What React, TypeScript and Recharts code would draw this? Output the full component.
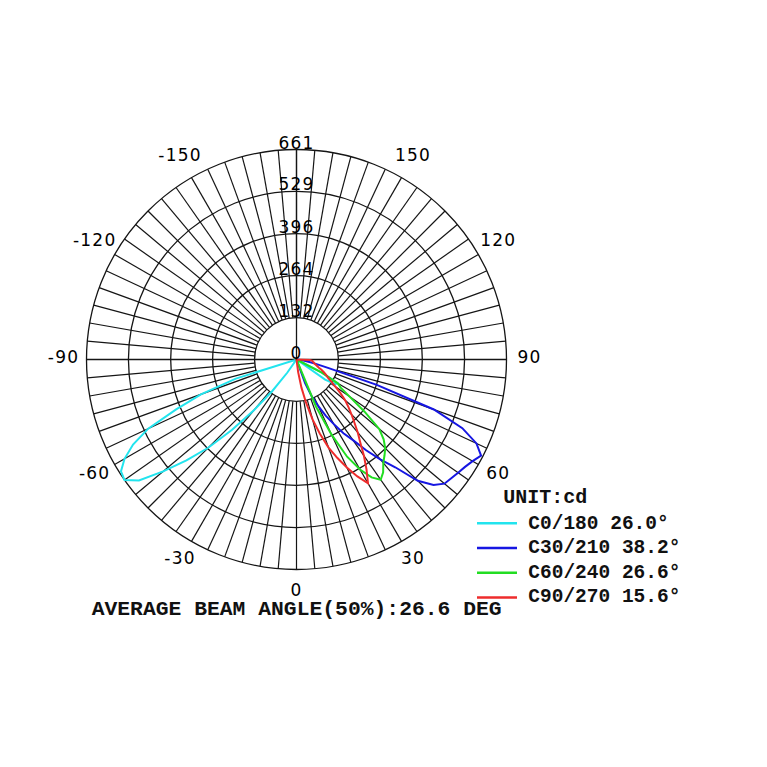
import React from "react";
import { PolarAngleAxis, PolarGrid, PolarRadiusAxis, Radar, RadarChart } from "recharts";

const SIZE = 760;
const CX = 296.5;
const CY = 359.5;
const R = 210;
const MAX_CD = 661;
const GRID = "#151515";

const radiusTicks = [0, 132, 264, 396, 529, 661];
const angleLabels = [0, 30, 60, 90, 120, 150, -150, -120, -90, -60, -30];

// gamma positions on a 0..360 axis: 0 at the bottom, 90 right, 180 top, 270 (= -90) left
const toPos = (a: number) => (a < 0 ? a + 360 : a);
const toLabel = (p: number) => (p > 180 ? p - 360 : p);
const gammaPositions: number[] = [];
for (let i = 0; i < 144; i++) gammaPositions.push(i * 2.5);
const spokePositions = gammaPositions.filter((p) => p % 5 === 0);
const labelPositions = angleLabels.map(toPos);

// [gamma, cd] — angles not listed sit at the centre
const c0: [number, number][] = [
  [-72.5, 200], [-70, 320], [-67.5, 410], [-65, 515], [-62.5, 580], [-60, 625],
  [-57.5, 655], [-55, 661], [-52.5, 625], [-50, 548], [-47.5, 470], [-45, 393],
  [-42.5, 300], [-40, 210], [-37.5, 125], [-35, 50],
  [55, 110], [57.5, 145], [60, 150], [62.5, 90],
];
const c30: [number, number][] = [
  [20, 80], [22.5, 125], [25, 160], [27.5, 200], [30, 235], [32.5, 275], [35, 310],
  [37.5, 360], [40, 410], [42.5, 460], [45, 540], [47.5, 585], [50, 608], [52.5, 614],
  [55, 621], [57.5, 629], [60, 640], [62.5, 655], [65, 625], [67.5, 565], [70, 460],
  [72.5, 265], [75, 105], [77.5, 60], [80, 35], [82.5, 15],
];
const c60: [number, number][] = [
  [22.5, 160], [25, 260], [27.5, 345], [30, 400], [32.5, 440], [35, 462], [37.5, 448],
  [40, 425], [42.5, 410], [45, 395], [47.5, 372], [50, 340], [52.5, 270], [55, 205],
  [57.5, 165], [60, 150], [62.5, 90],
];
const c90: [number, number][] = [
  [7.5, 40], [10, 90], [12.5, 140], [15, 195], [17.5, 245], [20, 295], [22.5, 335],
  [25, 375], [27.5, 415], [30, 450], [32.5, 410], [35, 370], [37.5, 330], [40, 300],
  [42.5, 270], [45, 245], [47.5, 222], [50, 200], [52.5, 175], [55, 150], [57.5, 130],
  [60, 115], [62.5, 105], [65, 95], [67.5, 85], [70, 75], [72.5, 68], [75, 62],
  [77.5, 58], [80, 55], [82.5, 52], [85, 50], [87.5, 42],
];

const seriesNames = ["C0/180", "C30/210", "C60/240", "C90/270"];
const beamAngles = ["26.0", "38.2", "26.6", "15.6"];
const seriesColors = ["#22e4ee", "#1616e2", "#22dd22", "#ee2c2c"];
const seriesValues = [c0, c30, c60, c90];

const data = gammaPositions.map((pos) => {
  const row: Record<string, number> = { pos };
  seriesValues.forEach((pts, k) => {
    const hit = pts.find((p) => toPos(p[0]) === pos);
    row[`s${k}`] = hit ? hit[1] : 0;
  });
  return row;
});
const spokeData = spokePositions.map((pos) => ({ pos, zero: 0 }));

const labelFont = { fontFamily: "'DejaVu Sans', sans-serif", fontSize: 17, letterSpacing: 1.2, fill: "#000" };
const monoFont = "'Liberation Mono', 'Courier New', monospace";

function AngleTick({ x, y, payload }: any) {
  return (
    <text x={x} y={y} dy={-3} textAnchor="middle" dominantBaseline="central" {...labelFont}>
      {toLabel(payload.value)}
    </text>
  );
}

function RadiusTick({ x, y, payload }: any) {
  return (
    <text x={x} y={y} dy={-1} textAnchor="middle" {...labelFont}>
      {payload.value}
    </text>
  );
}

const layer: React.CSSProperties = { position: "absolute", left: 0, top: 0 };
const margin = { top: 0, right: 0, bottom: 0, left: 0 };

export default function App() {
  return (
    <div style={{ position: "absolute", left: 0, top: 0, width: SIZE, height: SIZE, background: "#fff" }}>
      {/* spokes every 5 deg, starting at the first ring */}
      <div style={layer}>
        <RadarChart width={SIZE} height={SIZE} data={spokeData} cx={CX} cy={CY} innerRadius={R / 5} outerRadius={R}
          startAngle={-90} endAngle={270} margin={margin}>
          <PolarGrid gridType="circle" polarRadius={[]} stroke={GRID} strokeWidth={1.2} />
          <PolarAngleAxis dataKey="pos" type="number" domain={[0, 360]} ticks={spokePositions}
            tick={false} axisLine={false} tickLine={false} />
          <PolarRadiusAxis domain={[0, MAX_CD]} tick={false} axisLine={false} />
          <Radar dataKey="zero" stroke="none" fill="none" dot={false} isAnimationActive={false} />
        </RadarChart>
      </div>
      {/* rings, axes and curves */}
      <div style={layer}>
        <RadarChart width={SIZE} height={SIZE} data={data} cx={CX} cy={CY} innerRadius={0} outerRadius={R}
          startAngle={-90} endAngle={270} margin={margin}>
          <PolarGrid gridType="circle" polarAngles={[0, 180]} stroke={GRID} strokeWidth={1.3} />
          <PolarAngleAxis dataKey="pos" type="number" domain={[0, 360]} ticks={labelPositions}
            tick={<AngleTick />} tickSize={23} axisLine={false} tickLine={false} />
          <PolarRadiusAxis angle={90} domain={[0, MAX_CD]} ticks={radiusTicks} tick={<RadiusTick />}
            axisLine={{ stroke: GRID, strokeWidth: 1.3 }} tickLine={false} stroke={GRID} />
          {seriesNames.map((name, k) => (
            <Radar key={name} name={name} dataKey={`s${k}`} stroke={seriesColors[k]} strokeWidth={2}
              fill="none" fillOpacity={0} dot={false} isAnimationActive={false} />
          ))}
        </RadarChart>
      </div>
      <svg width={SIZE} height={SIZE} style={layer}>
        <text x={503.3} y={503.3} fontFamily={monoFont} fontWeight="bold" fontSize={20} fill="#111">
          UNIT:cd
        </text>
        {seriesNames.map((name, k) => (
          <g key={name}>
            <line x1={477} x2={517} y1={523.3 + k * 24.7} y2={523.3 + k * 24.7} stroke={seriesColors[k]} strokeWidth={2.5} />
            <text x={528.3} y={528.5 + k * 24.5} fontFamily={monoFont} fontWeight="bold" fontSize={19.5} fill="#111">
              {`${name} ${beamAngles[k]}°`}
            </text>
          </g>
        ))}
        <text x={91.7} y={615} textLength={410} lengthAdjust="spacingAndGlyphs" fontFamily={monoFont}
          fontWeight="bold" fontSize={20} fill="#111">
          AVERAGE BEAM ANGLE(50%):26.6 DEG
        </text>
      </svg>
    </div>
  );
}
